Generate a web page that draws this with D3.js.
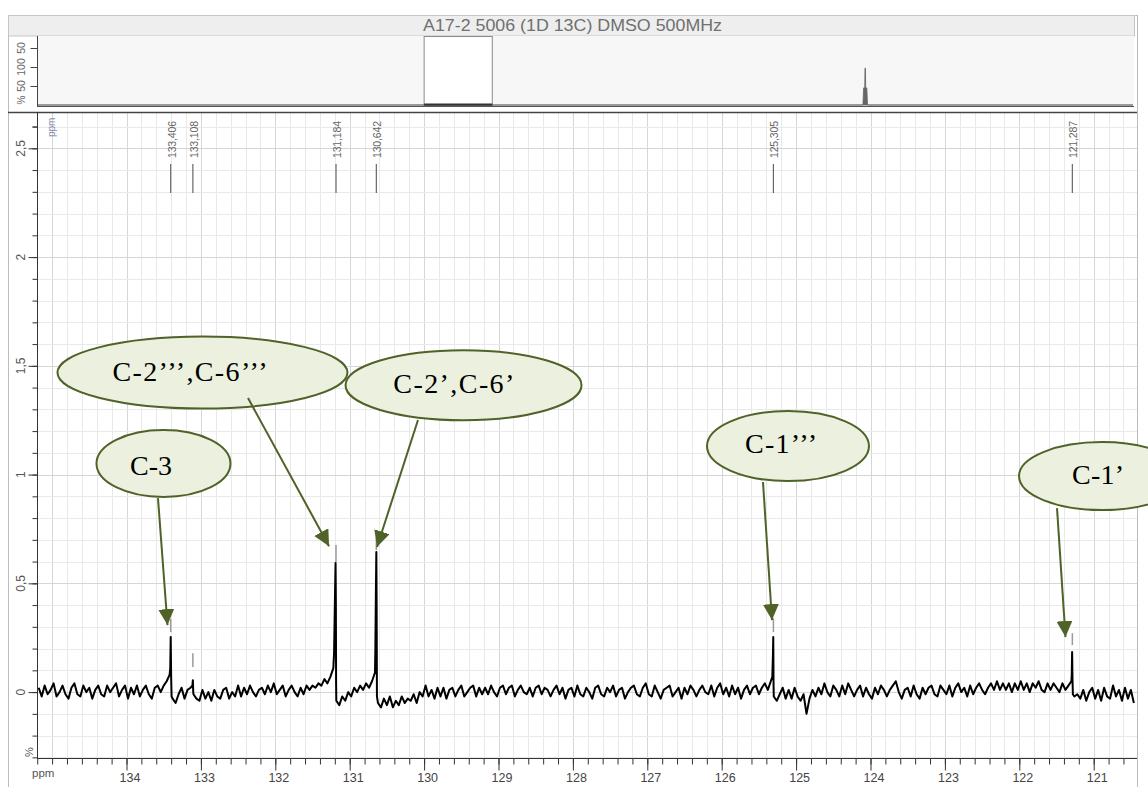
<!DOCTYPE html>
<html><head><meta charset="utf-8">
<script src="https://cdn.jsdelivr.net/npm/d3@7"></script>
<style>html,body{margin:0;padding:0;background:#fff;}svg{display:block;}</style>
</head><body>
<svg id="c" width="1148" height="787"></svg>
<script>
// ---------------- data ----------------
const title = "A17-2 5006 (1D 13C) DMSO 500MHz";
const xTickValues = [134,133,132,131,130,129,128,127,126,125,124,123,122,121];
const yTickValues = [0,0.5,1,1.5,2,2.5];
const yTickLabels = ["0","0,5","1","1,5","2","2,5"];
const peakPpm    = [133.406,133.108,131.184,130.642,125.305,121.287];
const peakLabels = ["133,406","133,108","131,184","130,642","125,305","121,287"];
const peakMarkLow  = [0.276,0.115,0.598,0.653,0.276,0.216];
const peakMarkHigh = [0.336,0.179,0.676,0.708,0.340,0.271];
// baseline noise, rows of 0.04 ppm samples starting at the given ppm
const noiseRows = [
 [135.18,[0.02,-0.02,0.03,-0.01,0.01,0.04,-0.02,0.00,0.03,-0.01,-0.03,0.02,0.04,-0.01,-0.02,0.03,0.00,0.02,-0.03,0.01,0.03,-0.01,-0.02,0.03,0.00]],
 [134.18,[0.02,0.04,-0.02,0.01,0.03,-0.03,0.02,-0.01,0.03,-0.02,0.01,0.03,-0.01,-0.03,0.02,0.03,0.00,0.03,0.05,0.08,-0.03,-0.05,-0.01,0.02,-0.03]],
 [133.18,[0.01,0.02,-0.01,-0.03,-0.04,0.01,-0.03,0.00,-0.04,0.01,-0.02,-0.03,0.01,0.02,-0.03,0.00,-0.02,0.03,-0.02,0.02,-0.01,0.03,0.00,-0.02,0.01]],
 [132.18,[0.02,-0.01,0.03,0.00,0.04,-0.01,0.01,0.03,-0.02,0.01,0.03,0.00,-0.02,0.02,-0.01,0.03,0.01,0.03,0.02,0.04,0.03,0.06,0.04,0.07,0.11]],
 [131.18,[-0.04,-0.06,-0.02,-0.04,0.00,-0.02,0.02,0.00,0.03,0.01,0.04,0.02,0.05,0.09,-0.05,-0.07,-0.03,-0.06,-0.02,-0.07,-0.04,-0.06,-0.02,-0.05,-0.03]],
 [130.18,[-0.04,-0.01,-0.05,0.00,-0.02,0.03,-0.02,0.01,-0.03,0.02,-0.02,0.02,-0.03,0.01,0.02,-0.02,0.01,0.03,-0.02,0.00,0.02,0.03,-0.02,0.02,-0.01]],
 [129.18,[0.02,-0.01,0.03,0.00,-0.02,0.02,0.03,-0.01,0.02,0.03,-0.02,0.01,0.03,0.00,-0.01,0.02,-0.02,0.02,0.03,-0.01,0.02,0.01,-0.02,0.01,0.03]],
 [128.18,[-0.01,0.02,-0.03,0.01,0.02,-0.02,0.03,-0.01,-0.02,0.02,0.00,-0.03,0.02,0.03,-0.01,-0.02,0.02,0.00,0.03,-0.02,0.01,0.02,-0.03,0.00,0.02]],
 [127.18,[0.03,-0.01,-0.02,0.02,0.04,-0.01,-0.02,0.03,0.00,-0.03,0.01,0.02,0.03,-0.02,0.00,0.02,-0.03,0.02,-0.01,0.03,0.01,-0.02,0.01,0.03,0.00]],
 [126.18,[-0.01,0.03,-0.02,0.02,0.04,-0.01,0.02,-0.02,0.03,-0.01,0.02,-0.03,0.01,0.03,-0.01,0.02,0.03,-0.01,0.02,0.04,0.01,0.05,-0.02,-0.04,-0.01]],
 [125.18,[0.02,-0.03,0.01,-0.03,0.02,-0.02,-0.04,-0.01,-0.10,-0.03,0.01,-0.02,0.02,-0.01,0.04,0.00,-0.02,0.03,0.01,-0.02,0.03,-0.01,0.04,0.01,-0.02]],
 [124.18,[0.01,0.03,-0.02,0.02,-0.01,-0.03,0.02,-0.01,0.03,0.01,-0.02,0.01,0.03,0.05,0.00,-0.03,0.01,0.02,-0.02,0.03,-0.01,-0.03,0.02,-0.01,0.02]],
 [123.18,[0.03,-0.01,-0.02,0.03,0.01,-0.01,0.03,-0.02,0.02,0.04,0.00,0.02,-0.02,0.03,-0.01,0.02,0.04,0.01,-0.01,0.02,0.04,0.01,0.05,0.01,0.04]],
 [122.18,[0.01,0.04,0.00,0.04,0.01,0.05,0.01,0.04,0.00,0.04,0.02,0.05,0.01,0.00,0.04,0.01,0.04,0.02,0.00,0.04,0.01,0.03,0.05,-0.02,-0.01]],
 [121.18,[-0.03,0.01,-0.04,0.00,0.02,-0.03,0.01,-0.04,0.02,-0.02,-0.03,0.03,-0.02,0.01,-0.04,0.02,-0.03,0.01,-0.05]]
];
const noiseStep = 0.04;
// peak line shapes [ppm, intensity]
const peakPoints = [
 [133.412,0.11],[133.406,0.253],[133.400,0.07],[133.394,-0.02],
 [133.114,0.03],[133.108,0.055],[133.103,0.00],
 [131.210,0.18],[131.198,0.44],[131.190,0.593],[131.186,0.42],[131.183,0.05],
 [130.655,0.20],[130.648,0.46],[130.642,0.644],[130.638,0.40],[130.634,-0.02],
 [125.320,0.07],[125.312,0.16],[125.307,0.253],[125.303,0.03],
 [121.295,0.08],[121.290,0.184],[121.285,0.06],[121.280,-0.01]
];
// overview (full spectrum, %)
const overviewPpm = [219.2,40.0,39.85,39.6,39.55,39.45,39.4,39.15,39.0,-18.6];
const overviewPct = [0,0,45,45,97,97,45,45,0,0];
const overviewTicks = [50,100,150];
const overviewTickLabels = ["50","100","50"];
// annotations (data coordinates)
const annoLabels = ["C-2’’’,C-6’’’","C-2’,C-6’","C-3","C-1’’’","C-1’"];
const annoCenter = [[132.979,1.469],[129.470,1.411],[133.503,1.051],[125.109,1.131],[120.888,0.993]];
const annoText   = [[133.147,1.471],[129.600,1.416],[133.671,1.039],[125.203,1.140],[120.942,0.998]];
const annoFrom   = [[132.367,1.352],[130.082,1.251],[133.577,0.892],[125.445,0.966],[121.493,0.846]];
const annoTo     = [[131.278,0.671],[130.633,0.667],[133.449,0.308],[125.324,0.331],[121.379,0.253]];
const annoRadii  = [[145,36],[118,35],[67,33.5],[81,35],[83,34]];
const annoTextWidth = [155,121,42,72,52];

// ---------------- drawing ----------------
const svg = d3.select("#c");
const P = {left:37, right:1137, top:112, bottom:758};
const x = d3.scaleLinear().domain([135.203,120.418]).range([P.left,P.right]);
const y = d3.scaleLinear().domain([-0.303,2.667]).range([P.bottom,P.top]);
const sans = "'Liberation Sans', Arial, sans-serif";
const serif = "'Liberation Serif', 'Times New Roman', serif";

// outer frame
svg.append("rect").attr("x",8.5).attr("y",15.5).attr("width",1129).attr("height",790)
  .attr("fill","#fff").attr("stroke","#bdbdbd");
// title bar
svg.append("rect").attr("x",8.5).attr("y",15.5).attr("width",1126).attr("height",20.5)
  .attr("fill","#eeeeee").attr("stroke","#c6c6c6");
svg.append("text").attr("x",572.5).attr("y",31).attr("text-anchor","middle")
  .attr("font-family",sans).attr("font-size",16).attr("fill","#707070")
  .attr("textLength",299).attr("lengthAdjust","spacingAndGlyphs").text(title);

// overview panel
const ox = d3.scaleLinear().domain([219.2,-18.6]).range([37,1133]);
const oy = d3.scaleLinear().domain([0,181.6]).range([105,36]);
svg.append("rect").attr("x",37).attr("y",36).attr("width",1097).attr("height",70).attr("fill","#f7f7f7");
svg.append("rect").attr("x",ox(135.203)).attr("y",36.5).attr("width",ox(120.418)-ox(135.203)).attr("height",69)
  .attr("fill","#fff").attr("stroke","#8a8a8a");
const ovData = overviewPpm.map((p,i)=>[p,overviewPct[i]]);
svg.append("path").datum(ovData)
  .attr("d",d3.area().x(d=>ox(d[0])).y0(oy(0)).y1(d=>oy(d[1])))
  .attr("fill","#666").attr("stroke","#666").attr("stroke-width",0.8);
svg.append("line").attr("x1",ox(135.203)).attr("x2",ox(120.418)).attr("y1",104.5).attr("y2",104.5)
  .attr("stroke","#333").attr("stroke-width",2);
svg.append("line").attr("x1",37).attr("x2",1134).attr("y1",106.5).attr("y2",106.5).attr("stroke","#555");
const oAxis = svg.append("g").attr("transform","translate(37.5,0)")
  .call(d3.axisLeft(oy).tickValues(overviewTicks).tickSize(7).tickFormat(""));
oAxis.select(".domain").attr("stroke","#444").attr("d","M0,36V106");
oAxis.selectAll(".tick line").attr("stroke","#444");
overviewTicks.forEach((t,i)=>{
  svg.append("text").attr("transform",`translate(24.5,${oy(t)}) rotate(-90)`)
    .attr("text-anchor","middle").attr("font-family",sans).attr("font-size",10.5).attr("fill","#666")
    .text(overviewTickLabels[i]);
});
svg.append("text").attr("transform",`translate(24.5,100) rotate(-90)`)
  .attr("text-anchor","middle").attr("font-family",sans).attr("font-size",10).attr("fill","#666").text("%");

// main plot grid
const g = svg.append("g");
const xGrid = d3.range(0,74).map(i=>+(120.6+i*0.2).toFixed(1));
const yGrid = d3.range(0,30).map(i=>+(-0.3+i*0.1).toFixed(1));
g.selectAll(".vg").data(xGrid).enter().append("line")
  .attr("x1",d=>Math.round(x(d))+0.5).attr("x2",d=>Math.round(x(d))+0.5)
  .attr("y1",P.top).attr("y2",P.bottom)
  .attr("stroke",d=>Math.abs(d-Math.round(d))<1e-6?"#d6d6d6":"#e9e9e9");
g.selectAll(".hg").data(yGrid).enter().append("line")
  .attr("x1",P.left).attr("x2",P.right)
  .attr("y1",d=>Math.round(y(d))+0.5).attr("y2",d=>Math.round(y(d))+0.5)
  .attr("stroke",d=>Math.abs(d*2-Math.round(d*2))<1e-6?"#d6d6d6":"#e9e9e9");

// top border of main plot
svg.append("line").attr("x1",8).attr("x2",1137).attr("y1",112.5).attr("y2",112.5)
  .attr("stroke","#444").attr("stroke-width",1.5);
svg.append("line").attr("x1",1137.5).attr("x2",1137.5).attr("y1",112).attr("y2",787).attr("stroke","#bdbdbd");

// peak labels
peakPpm.forEach((p,i)=>{
  svg.append("line").attr("x1",x(p)).attr("x2",x(p)).attr("y1",164).attr("y2",193)
    .attr("stroke","#666").attr("stroke-width",1.2);
  svg.append("text").attr("transform",`translate(${x(p)+5},158) rotate(-90)`)
    .attr("text-anchor","start").attr("font-family",sans).attr("font-size",10.5).attr("fill","#666")
    .attr("textLength",37).attr("lengthAdjust","spacing")
    .text(peakLabels[i]);
  svg.append("line").attr("x1",x(p)).attr("x2",x(p)).attr("y1",y(peakMarkLow[i])).attr("y2",y(peakMarkHigh[i]))
    .attr("stroke","#9a9a9a").attr("stroke-width",1.5);
});
svg.append("text").attr("transform",`translate(55,137) rotate(-90)`)
  .attr("text-anchor","start").attr("font-family",sans).attr("font-size",10).attr("fill","#7f88a6").text("ppm");

// spectrum
const spec = [];
noiseRows.forEach(([start,vals])=>vals.forEach((v,j)=>spec.push([+(start-j*noiseStep).toFixed(3),v])));
peakPoints.forEach(d=>spec.push(d));
spec.sort((a,b)=>b[0]-a[0]);
svg.append("clipPath").attr("id","clip").append("rect")
  .attr("x",P.left).attr("y",P.top).attr("width",P.right-P.left).attr("height",P.bottom-P.top);
svg.append("path").datum(spec).attr("clip-path","url(#clip)")
  .attr("d",d3.line().x(d=>x(d[0])).y(d=>y(d[1])))
  .attr("fill","none").attr("stroke","#000").attr("stroke-width",2).attr("stroke-linejoin","round");

// axes
const xAxisMinor = svg.append("g").attr("transform",`translate(0,${P.bottom+0.5})`)
  .call(d3.axisBottom(x).tickValues(xGrid).tickSize(6).tickSizeOuter(0).tickFormat(""));
const xAxis = svg.append("g").attr("transform",`translate(0,${P.bottom+0.5})`)
  .call(d3.axisBottom(x).tickValues(xTickValues).tickSize(12).tickSizeOuter(0).tickPadding(3));
xAxis.selectAll("text").attr("font-family",sans).attr("font-size",12.5).attr("fill","#444").attr("dx",3);
[xAxis,xAxisMinor].forEach(a=>{a.selectAll("line").attr("stroke","#333");a.select(".domain").attr("stroke","#333");});
xAxis.select(".domain").attr("d",`M${P.left},0H${P.right}`);
xAxisMinor.select(".domain").remove();

const yMinor = yGrid.concat([2.6]);
const yAxisMinor = svg.append("g").attr("transform",`translate(${P.left+0.5},0)`)
  .call(d3.axisLeft(y).tickValues(yMinor).tickSize(5).tickSizeOuter(0).tickFormat(""));
const yAxis = svg.append("g").attr("transform",`translate(${P.left+0.5},0)`)
  .call(d3.axisLeft(y).tickValues(yTickValues).tickSize(9).tickSizeOuter(0).tickFormat(""));
[yAxis,yAxisMinor].forEach(a=>{a.selectAll("line").attr("stroke","#333");});
yAxis.select(".domain").attr("stroke","#333").attr("d",`M0,${P.top}V${P.bottom}`);
yAxisMinor.select(".domain").remove();
yTickValues.forEach((t,i)=>{
  svg.append("text").attr("transform",`translate(24.5,${y(t)}) rotate(-90)`)
    .attr("text-anchor","middle").attr("font-family",sans).attr("font-size",12).attr("fill","#555")
    .text(yTickLabels[i]);
});
svg.append("text").attr("transform",`translate(33,752) rotate(-90)`)
  .attr("text-anchor","middle").attr("font-family",sans).attr("font-size",11).attr("fill","#555").text("%");
svg.append("text").attr("x",32).attr("y",777).attr("font-family",sans).attr("font-size",11.5).attr("fill","#555").text("ppm");

// annotations
const defs = svg.append("defs");
defs.append("marker").attr("id","ah").attr("markerUnits","userSpaceOnUse")
  .attr("markerWidth",18).attr("markerHeight",18).attr("refX",16).attr("refY",8).attr("orient","auto")
  .append("path").attr("d","M0,0L16,8L0,16Z").attr("fill","#4f6228");
annoLabels.forEach((lab,i)=>{
  svg.append("ellipse").attr("cx",x(annoCenter[i][0])).attr("cy",y(annoCenter[i][1]))
    .attr("rx",annoRadii[i][0]).attr("ry",annoRadii[i][1])
    .attr("fill","#ebf1de").attr("stroke","#4f6228").attr("stroke-width",2);
  svg.append("text").attr("x",x(annoText[i][0])).attr("y",y(annoText[i][1])+9.3)
    .attr("text-anchor","middle").attr("font-family",serif).attr("font-size",28).attr("fill","#000")
    .attr("textLength",annoTextWidth[i]).attr("lengthAdjust","spacing").text(lab);
});
annoLabels.forEach((lab,i)=>{
  svg.append("line").attr("x1",x(annoFrom[i][0])).attr("y1",y(annoFrom[i][1]))
    .attr("x2",x(annoTo[i][0])).attr("y2",y(annoTo[i][1]))
    .attr("stroke","#4f6228").attr("stroke-width",2).attr("marker-end","url(#ah)");
});
</script>
</body></html>
